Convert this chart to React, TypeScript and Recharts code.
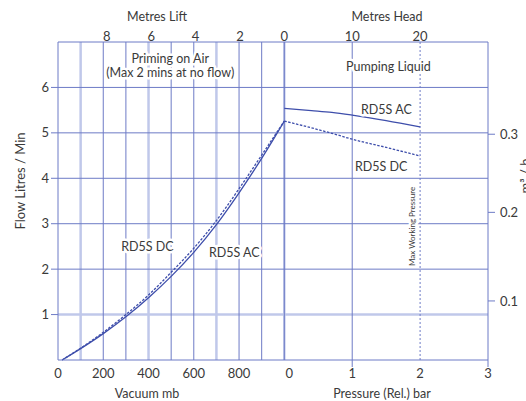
import React from 'react';
import { ComposedChart, Line, XAxis, YAxis, ReferenceLine, ReferenceDot } from 'recharts';

const FONT = 'Lato, "Noto Sans", sans-serif';
const TEXT = '#3a3a3a';
const GRID = '#6d7bc6';
const GRID_LIGHT = '#c0c8ea';
const CURVE = '#3e4eab';

// one shared x scale: vacuum in mb (0..1000), then 300 units per bar of pressure
const barToX = (bar: number) => 1000 + bar * 300;
const liftToX = (m: number) => 1000 - m * 98;
const headToX = (m: number) => barToX(m / 10);

const vacuumMb = [18, 100, 200, 300, 400, 500, 600, 700, 800, 900, 1000];
const acVacuumFlow = [0, 0.25, 0.58, 0.95, 1.37, 1.84, 2.37, 2.98, 3.68, 4.44, 5.26];
const dcVacuumFlow = [0, 0.26, 0.61, 1.0, 1.43, 1.93, 2.46, 3.07, 3.77, 4.51, 5.26];

const pressureBar = [0, 0.4, 0.7, 1, 1.5, 2];
const acPressureFlow = [5.54, 5.49, 5.45, 5.39, 5.27, 5.13];
const dcPressureFlow = [5.26, 5.11, 4.99, 4.86, 4.68, 4.49];

const vacuumTicks = [0, 200, 400, 600, 800];
const pressureTicks = [0, 1, 2, 3];
const liftTicks = [8, 6, 4, 2, 0];
const headTicks = [10, 20];
const flowTicks = [1, 2, 3, 4, 5, 6];
const m3hLabels = ['0.1', '0.2', '0.3'];
const m3hAtFlow = [1.3, 3.25, 4.97];

const vacuumGridDark = [200, 300, 500, 600, 800, 900, 1000];
const vacuumGridLight = [100, 400, 700, 1000];
const pressureGridDark = [1];
const maxWorkingBar = 2;
const flowGridDark = [2, 3, 4, 5, 6];
const flowGridLight = [1];

const acVacuum = vacuumMb.map((v, i) => ({ x: v, y: acVacuumFlow[i] }));
const dcVacuum = vacuumMb.map((v, i) => ({ x: v, y: dcVacuumFlow[i] }));
const acPressure = pressureBar.map((p, i) => ({ x: barToX(p), y: acPressureFlow[i] }));
const dcPressure = pressureBar.map((p, i) => ({ x: barToX(p), y: dcPressureFlow[i] }));

const bottomTickValues = [...vacuumTicks, ...pressureTicks.map(barToX)];
const bottomTickLabels = [...vacuumTicks.map(String), ...pressureTicks.map(String)];
const topTickValues = [...liftTicks.map(liftToX), ...headTicks.map(headToX)];
const topTickLabels = [...liftTicks.map(String), ...headTicks.map(String)];

const annotations = [
  { x: 496, y: 6.63, text: 'Priming on Air' },
  { x: 496, y: 6.33, text: '(Max 2 mins at no flow)' },
  { x: 1460, y: 6.45, text: 'Pumping Liquid' },
  { x: 1451, y: 5.52, text: 'RD5S AC' },
  { x: 1428, y: 4.26, text: 'RD5S DC' },
  { x: 395, y: 2.49, text: 'RD5S DC' },
  { x: 779, y: 2.36, text: 'RD5S AC' },
];

const textStyle = { fontFamily: FONT, fontSize: 12.5, fill: TEXT };

function BottomTick({ x, y, payload, index }: any) {
  const marked = payload.value === barToX(1) || payload.value === barToX(3);
  const shift = payload.value === barToX(0) ? 5 : 0;
  return (
    <g>
      {marked && <line x1={x} x2={x} y1={y} y2={y + 7} stroke={GRID} />}
      <text x={x + shift} y={y + 18} textAnchor="middle" {...textStyle} fontSize={13}>
        {bottomTickLabels[index]}
      </text>
    </g>
  );
}

function TopTick({ x, y, index }: any) {
  return (
    <text x={x} y={y - 1.5} textAnchor="middle" {...textStyle} fontSize={13}>
      {topTickLabels[index]}
    </text>
  );
}

function Annotation({ cx, cy, text, rotate, size }: any) {
  return (
    <text
      x={cx}
      y={cy}
      textAnchor="middle"
      dominantBaseline="central"
      transform={rotate ? `rotate(-90 ${cx} ${cy})` : undefined}
      {...textStyle}
      fontSize={size || 12.5}
      stroke="#fff"
      strokeWidth={5}
      strokeLinejoin="round"
      paintOrder="stroke"
    >
      {text}
    </text>
  );
}

export default function App() {
  return (
    <div style={{ position: 'absolute', left: 0, top: 0, background: '#fff' }}>
      <ComposedChart width={526} height={401} margin={{ top: 0, right: 0, bottom: 0, left: 0 }}>
        <XAxis
          xAxisId="b"
          dataKey="x"
          type="number"
          domain={[0, 1900]}
          ticks={bottomTickValues}
          interval={0}
          height={41}
          axisLine={{ stroke: GRID }}
          tickLine={false}
          tickSize={0}
          tickMargin={0}
          tick={<BottomTick />}
        />
        <XAxis
          xAxisId="t"
          dataKey="x"
          orientation="top"
          type="number"
          domain={[0, 1900]}
          ticks={topTickValues}
          interval={0}
          height={42}
          axisLine={{ stroke: GRID }}
          tickLine={false}
          tickSize={0}
          tickMargin={0}
          tick={<TopTick />}
        />
        <YAxis
          yAxisId="l"
          type="number"
          domain={[0, 7]}
          ticks={flowTicks}
          interval={0}
          width={58}
          axisLine={{ stroke: GRID }}
          tickLine={{ stroke: GRID }}
          tickSize={7}
          tickMargin={2}
          tick={{ ...textStyle, fontSize: 13 }}
        />
        <YAxis
          yAxisId="r"
          orientation="right"
          type="number"
          domain={[0, 7]}
          ticks={m3hAtFlow}
          interval={0}
          width={38}
          axisLine={{ stroke: GRID }}
          tickLine={{ stroke: GRID }}
          tickSize={7}
          tickMargin={5}
          tick={{ ...textStyle, fontSize: 13 }}
          tickFormatter={(v: number) => m3hLabels[m3hAtFlow.indexOf(v)] ?? ''}
        />

        {flowGridLight.map((f) => (
          <ReferenceLine key={'hl' + f} xAxisId="b" yAxisId="l" y={f} stroke={GRID_LIGHT} strokeWidth={2.5} />
        ))}
        {vacuumGridLight.map((v) => (
          <ReferenceLine key={'vl' + v} xAxisId="b" yAxisId="l" x={v} stroke={GRID_LIGHT} strokeWidth={2.5} />
        ))}
        {flowGridDark.map((f) => (
          <ReferenceLine key={'hd' + f} xAxisId="b" yAxisId="l" y={f} stroke={GRID} strokeWidth={1} />
        ))}
        {vacuumGridDark.map((v) => (
          <ReferenceLine key={'vd' + v} xAxisId="b" yAxisId="l" x={v} stroke={GRID} strokeWidth={1} />
        ))}
        {pressureGridDark.map((p) => (
          <ReferenceLine key={'pd' + p} xAxisId="b" yAxisId="l" x={barToX(p)} stroke={GRID} strokeWidth={1} />
        ))}
        <ReferenceLine xAxisId="b" yAxisId="l" x={barToX(maxWorkingBar)} stroke={GRID} strokeWidth={1} strokeDasharray="2 2" />

        {/* invisible series so the top and right axes get drawn */}
        <Line xAxisId="t" yAxisId="r" data={acPressure} dataKey="y" stroke="none" dot={false} activeDot={false} legendType="none" isAnimationActive={false} />

        <Line xAxisId="b" yAxisId="l" data={acVacuum} dataKey="y" type="monotone" stroke={CURVE} strokeWidth={1.3} dot={false} isAnimationActive={false} />
        <Line xAxisId="b" yAxisId="l" data={dcVacuum} dataKey="y" type="monotone" stroke={CURVE} strokeWidth={1.3} strokeDasharray="2.5 1.5" dot={false} isAnimationActive={false} />
        <Line xAxisId="b" yAxisId="l" data={acPressure} dataKey="y" type="monotone" stroke={CURVE} strokeWidth={1.3} dot={false} isAnimationActive={false} />
        <Line xAxisId="b" yAxisId="l" data={dcPressure} dataKey="y" type="monotone" stroke={CURVE} strokeWidth={1.3} strokeDasharray="2.5 1.5" dot={false} isAnimationActive={false} />

        {annotations.map((a, i) => (
          <ReferenceDot
            key={'a' + i}
            xAxisId="b"
            yAxisId="l"
            x={a.x}
            y={a.y}
            r={0}
            shape={(p: any) => <Annotation cx={p.cx} cy={p.cy} text={a.text} />}
          />
        ))}
        <ReferenceDot
          xAxisId="b"
          yAxisId="l"
          x={1566}
          y={2.94}
          r={0}
          shape={(p: any) => <Annotation cx={p.cx} cy={p.cy} text="Max Working Pressure" rotate size={8} />}
        />

        <text x={157} y={20.5} textAnchor="middle" {...textStyle}>Metres Lift</text>
        <text x={387} y={20.5} textAnchor="middle" {...textStyle}>Metres Head</text>
        <text x={147} y={397.5} textAnchor="middle" {...textStyle}>Vacuum mb</text>
        <text x={382} y={397.5} textAnchor="middle" {...textStyle}>Pressure (Rel.) bar</text>
        <text x={20} y={181} textAnchor="middle" dominantBaseline="central" transform="rotate(-90 20 181)" {...textStyle} fontSize={13}>
          Flow Litres / Min
        </text>
        <text x={525} y={176} textAnchor="middle" dominantBaseline="central" transform="rotate(-90 525 176)" {...textStyle} fontSize={13}>
          m³ / h
        </text>
      </ComposedChart>
    </div>
  );
}
